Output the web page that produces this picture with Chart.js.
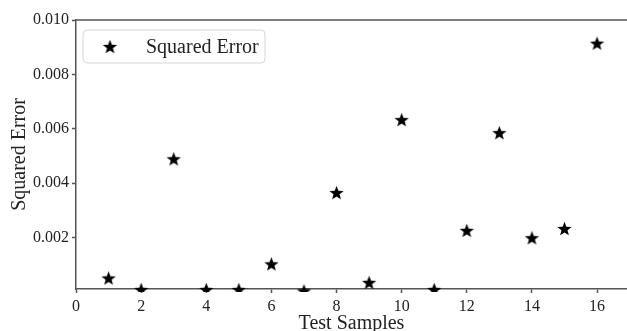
<!DOCTYPE html>
<html>
<head>
<meta charset="utf-8">
<script src="https://cdn.jsdelivr.net/npm/chart.js@4.4.1/dist/chart.umd.min.js"></script>
<style>
  html, body { margin: 0; padding: 0; background: #fff; overflow: hidden; }
  #wrap { width: 627px; height: 331px; }
</style>
</head>
<body>
<div id="wrap"><canvas id="chart"></canvas></div>
<script>
// test sample index and squared error
const samples = [1, 2, 3, 4, 5, 6, 7, 8, 9, 10, 11, 12, 13, 14, 15, 16];
const sqErrors = [0.00052, 0.0001, 0.0049, 0.0001, 0.0001, 0.00104, 0.00005, 0.00366,
                  0.00036, 0.00634, 0.0001, 0.00227, 0.00586, 0.0020, 0.00234, 0.00915];
const seriesName = 'Squared Error';
const xTitle = 'Test Samples';
const yTitle = 'Squared Error';

const serif = '"Liberation Serif", "Times New Roman", serif';
const textColor = '#222';
const spineColor = '#555';

// filled five point star used as marker
function makeStar(r) {
    const c = document.createElement('canvas');
    const s = Math.ceil(r * 2 + 2);
    c.width = s; c.height = s;
    const ctx = c.getContext('2d');
    ctx.fillStyle = '#000';
    ctx.beginPath();
    for (let i = 0; i < 10; i++) {
        const rad = (i % 2 === 0) ? r : r * 0.42;
        const a = -Math.PI / 2 + i * Math.PI / 5;
        const px = s / 2 + rad * Math.cos(a);
        const py = s / 2 + rad * Math.sin(a) + r * 0.1;
        if (i === 0) ctx.moveTo(px, py); else ctx.lineTo(px, py);
    }
    ctx.closePath();
    ctx.fill();
    return c;
}
const star = makeStar(7.5);

// legend inside the axes + top spine
const boxLegend = {
    id: 'boxLegend',
    afterDraw(chart) {
        const ctx = chart.ctx;
        const a = chart.chartArea;
        ctx.save();
        ctx.strokeStyle = spineColor;
        ctx.lineWidth = 1.5;
        ctx.beginPath();
        ctx.moveTo(a.left, a.top);
        ctx.lineTo(a.right, a.top);
        ctx.stroke();

        const x = a.left + 7, y = a.top + 10, w = 182, h = 33;
        ctx.beginPath();
        ctx.roundRect(x, y, w, h, 4);
        ctx.fillStyle = 'rgba(255,255,255,0.8)';
        ctx.fill();
        ctx.strokeStyle = '#d6d6d6';
        ctx.lineWidth = 1;
        ctx.stroke();
        ctx.drawImage(star, x + 27 - star.width / 2, y + h / 2 - star.height / 2);
        ctx.fillStyle = textColor;
        ctx.font = '20px ' + serif;
        ctx.textBaseline = 'middle';
        ctx.fillText(seriesName, x + 63, y + h / 2 + 1);
        ctx.restore();
    }
};

new Chart(document.getElementById('chart'), {
    type: 'scatter',
    data: {
        datasets: [{
            label: seriesName,
            data: samples.map((s, i) => ({ x: s, y: sqErrors[i] })),
            pointStyle: star,
            pointRadius: 4,
            pointHoverRadius: 4,
            clip: { left: 0, top: 0, right: 0, bottom: 3 }
        }]
    },
    options: {
        responsive: true,
        maintainAspectRatio: false,
        animation: false,
        layout: { autoPadding: false, padding: { top: 20, right: 0, left: 0, bottom: 0 } },
        plugins: {
            legend: { display: false },
            tooltip: { enabled: false }
        },
        scales: {
            x: {
                type: 'linear',
                min: 0,
                max: 16.92,
                afterFit(scale) { scale.height = 42; },
                ticks: {
                    stepSize: 2,
                    includeBounds: false,
                    color: textColor,
                    font: { family: serif, size: 16 },
                    padding: 4
                },
                grid: { drawOnChartArea: false, tickLength: 4, color: spineColor, tickWidth: 1.5 },
                border: { display: true, color: spineColor, width: 1.5 },
                title: {
                    display: true, text: xTitle, color: textColor,
                    font: { family: serif, size: 20 }, padding: { top: 0, bottom: -5 }
                }
            },
            y: {
                min: 0.000115,
                max: 0.010,
                afterFit(scale) { scale.width = 76; },
                ticks: {
                    stepSize: 0.002,
                    includeBounds: false,
                    color: textColor,
                    font: { family: serif, size: 16 },
                    padding: 3,
                    callback: v => v.toFixed(3)
                },
                grid: { drawOnChartArea: false, tickLength: 4, color: spineColor, tickWidth: 1.5 },
                border: { display: true, color: spineColor, width: 1.5 },
                title: {
                    display: true, text: yTitle, color: textColor,
                    font: { family: serif, size: 20 }, padding: { top: 8, bottom: 2 }
                }
            }
        }
    },
    plugins: [boxLegend]
});
</script>
</body>
</html>
